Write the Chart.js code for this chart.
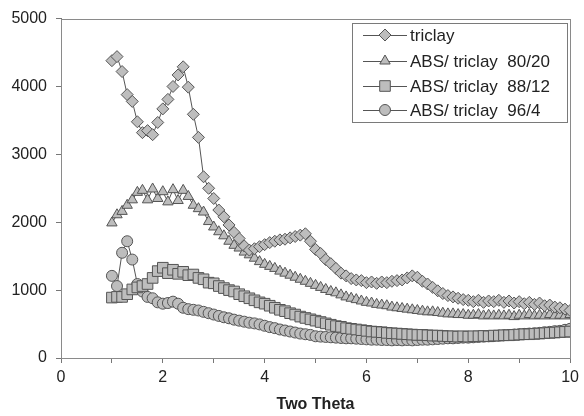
<!DOCTYPE html>
<html>
<head>
<meta charset="utf-8">
<script src="https://cdn.jsdelivr.net/npm/chart.js@4/dist/chart.umd.min.js"></script>
<style>
  html, body { margin: 0; padding: 0; background: #fff; }
  #wrap { width: 584px; height: 416px; }
</style>
</head>
<body>
<div id="wrap"><canvas id="xrd"></canvas></div>
<script>
// two theta positions
var twoTheta = [
  1.0, 1.1, 1.2, 1.3, 1.4, 1.5, 1.6, 1.7, 1.8, 1.9,
  2.0, 2.1, 2.2, 2.3, 2.4, 2.5, 2.6, 2.7, 2.8, 2.9,
  3.0, 3.1, 3.2, 3.3, 3.4, 3.5, 3.6, 3.7, 3.8, 3.9,
  4.0, 4.1, 4.2, 4.3, 4.4, 4.5, 4.6, 4.7, 4.8, 4.9,
  5.0, 5.1, 5.2, 5.3, 5.4, 5.5, 5.6, 5.7, 5.8, 5.9,
  6.0, 6.1, 6.2, 6.3, 6.4, 6.5, 6.6, 6.7, 6.8, 6.9,
  7.0, 7.1, 7.2, 7.3, 7.4, 7.5, 7.6, 7.7, 7.8, 7.9,
  8.0, 8.1, 8.2, 8.3, 8.4, 8.5, 8.6, 8.7, 8.8, 8.9,
  9.0, 9.1, 9.2, 9.3, 9.4, 9.5, 9.6, 9.7, 9.8, 9.9,
  10.0
];

var triclay = [
  4380, 4440, 4220, 3880, 3780, 3480, 3320, 3350, 3290, 3470,
  3670, 3810, 4000, 4170, 4290, 3990, 3590, 3250, 2670, 2500,
  2350, 2180, 2080, 1960, 1850, 1760, 1650, 1590, 1610, 1640,
  1670, 1700, 1720, 1740, 1750, 1770, 1790, 1810, 1830, 1720,
  1600, 1540, 1450, 1390, 1320, 1250, 1210, 1170, 1150, 1140,
  1110, 1120, 1100, 1120, 1110, 1130, 1140, 1150, 1180, 1210,
  1190, 1130, 1090, 1040, 990, 950, 920, 900, 880, 860,
  850, 830, 850, 820, 840, 830, 850, 820, 840, 810,
  830, 800, 820, 790, 810, 770, 780, 750, 740, 720,
  700
];

var abs8020 = [
  1990, 2110, 2160, 2250, 2330, 2440, 2470, 2330, 2490, 2350,
  2450, 2300, 2480, 2320, 2470, 2380, 2250, 2200, 2150, 2010,
  1930, 1860, 1800, 1720, 1660, 1620, 1560, 1520, 1470, 1420,
  1380, 1350, 1320, 1280, 1250, 1220, 1190, 1160, 1130, 1100,
  1070, 1040, 1010, 980, 960, 930, 900, 880, 860, 840,
  820, 810, 790, 780, 770, 750, 740, 730, 720, 710,
  700, 690, 680, 680, 670, 660, 650, 650, 640, 640,
  630, 630, 640, 620, 630, 620, 630, 620, 630, 610,
  630, 620, 640, 620, 630, 620, 640, 620, 630, 620,
  640
];

var abs8812 = [
  890, 900, 900, 940, 1010, 1040, 1060, 1090, 1180, 1280,
  1330, 1250, 1300, 1240, 1270, 1220, 1230, 1180, 1160, 1110,
  1100, 1060, 1030, 1000, 980, 940, 910, 880, 850, 820,
  800, 770, 740, 710, 690, 660, 640, 610, 590, 570,
  550, 530, 510, 490, 470, 460, 440, 430, 420, 410,
  400, 390, 385, 380, 370, 365, 360, 355, 350, 345,
  340, 340, 335, 330, 330, 325, 320, 320, 315, 320,
  315, 320, 320, 325, 320, 330, 330, 335, 335, 340,
  345, 350, 350, 355, 360, 365, 370, 375, 380, 385,
  390
];

var abs964 = [
  1210, 1060, 1550, 1720, 1450, 1090, 980, 900, 880, 820,
  800, 810, 830, 800, 740, 720, 710, 700, 680, 660,
  640, 620, 600, 585, 565, 550, 535, 520, 510, 495,
  475, 455, 440, 420, 405, 390, 375, 360, 350, 340,
  320, 315, 310, 305, 300, 295, 290, 290, 285, 280,
  275, 270, 270, 265, 265, 260, 265, 260, 265, 260,
  265, 270, 270, 275, 280, 285, 290, 290, 295, 300,
  300, 305, 310, 315, 320, 325, 330, 335, 340, 345,
  350, 355, 360, 365, 370, 380, 385, 395, 400, 415,
  430
];

var seriesNames = ["triclay", "ABS/ triclay  80/20", "ABS/ triclay  88/12", "ABS/ triclay  96/4"];
var xTicks = [0, 2, 4, 6, 8, 10];
var yTicks = [0, 1000, 2000, 3000, 4000, 5000];

function pairs(ys) {
  return ys.map(function (y, i) { return { x: twoTheta[i], y: y }; });
}

var markFill = "#bdbdbd";
var markEdge = "#555";

function makeSet(label, ys, style, radius) {
  return {
    label: label,
    data: pairs(ys),
    showLine: true,
    borderColor: "#555",
    borderWidth: 1,
    backgroundColor: markFill,
    pointStyle: style,
    pointRadius: radius,
    pointBackgroundColor: markFill,
    pointBorderColor: markEdge,
    pointBorderWidth: 1,
    tension: 0,
  };
}

var sets = [
  makeSet(seriesNames[0], triclay, "rectRot", 6),
  makeSet(seriesNames[1], abs8020, "triangle", 6),
  makeSet(seriesNames[2], abs8812, "rect", 7.5),
  makeSet(seriesNames[3], abs964, "circle", 5.5),
];

// box around plot area + legend inside it
var framePlugin = {
  id: "frame",
  afterDraw: function (chart) {
    var ctx = chart.ctx;
    var a = chart.chartArea;
    ctx.save();
    ctx.strokeStyle = "#8a8a8a";
    ctx.lineWidth = 1;
    ctx.strokeRect(Math.round(a.left) + 0.5, Math.round(a.top) + 0.5,
      Math.round(a.right - a.left), Math.round(a.bottom - a.top));

    // legend
    var bx = 352.5, by = 23.5, bw = 215, bh = 99;
    ctx.fillStyle = "#fff";
    ctx.fillRect(bx, by, bw, bh);
    ctx.strokeStyle = "#7a7a7a";
    ctx.strokeRect(bx, by, bw, bh);
    var rows = [35, 61, 86, 110];
    ctx.font = "17px 'Liberation Sans', Arial, sans-serif";
    ctx.textBaseline = "middle";
    sets.forEach(function (ds, i) {
      var y = rows[i];
      ctx.strokeStyle = "#555";
      ctx.beginPath();
      ctx.moveTo(363, y + 0.5);
      ctx.lineTo(407, y + 0.5);
      ctx.stroke();
      ctx.fillStyle = markFill;
      ctx.strokeStyle = markEdge;
      Chart.helpers.drawPoint(ctx, {
        pointStyle: ds.pointStyle,
        radius: ds.pointRadius,
        borderWidth: 1,
        rotation: 0,
      }, 385, y);
      ctx.fillStyle = "#222";
      ctx.fillText(ds.label, 410, y + 1);
    });
    ctx.restore();
  },
};

new Chart(document.getElementById("xrd"), {
  type: "scatter",
  data: { datasets: sets },
  options: {
    responsive: true,
    maintainAspectRatio: false,
    animation: false,
    layout: { padding: { top: 15, right: 11, left: 0, bottom: 0 } },
    plugins: {
      legend: { display: false },
      tooltip: { enabled: false },
    },
    scales: {
      x: {
        type: "linear",
        min: 0,
        max: 10,
        afterFit: function (s) { s.height = 58; },
        ticks: {
          stepSize: 1,
          autoSkip: false,
          maxRotation: 0,
          padding: 5,
          color: "#222",
          font: { size: 16, family: "'Liberation Sans', Arial, sans-serif" },
          callback: function (v) { return xTicks.indexOf(v) >= 0 ? String(v) : ""; },
        },
        grid: { drawOnChartArea: false, tickLength: 5, color: "#777" },
        border: { color: "#777" },
        title: {
          display: true,
          text: "Two Theta",
          color: "#222",
          font: { size: 16, weight: "bold", family: "'Liberation Sans', Arial, sans-serif" },
          padding: { top: 4, bottom: 2 },
        },
      },
      y: {
        min: 0,
        max: 5000,
        afterFit: function (s) { s.width = 61; },
        ticks: {
          stepSize: 1000,
          padding: 9,
          color: "#222",
          font: { size: 16, family: "'Liberation Sans', Arial, sans-serif" },
          callback: function (v) { return yTicks.indexOf(v) >= 0 ? String(v) : ""; },
        },
        grid: { drawOnChartArea: false, tickLength: 5, color: "#777" },
        border: { color: "#777" },
      },
    },
  },
  plugins: [framePlugin],
});
</script>
</body>
</html>
